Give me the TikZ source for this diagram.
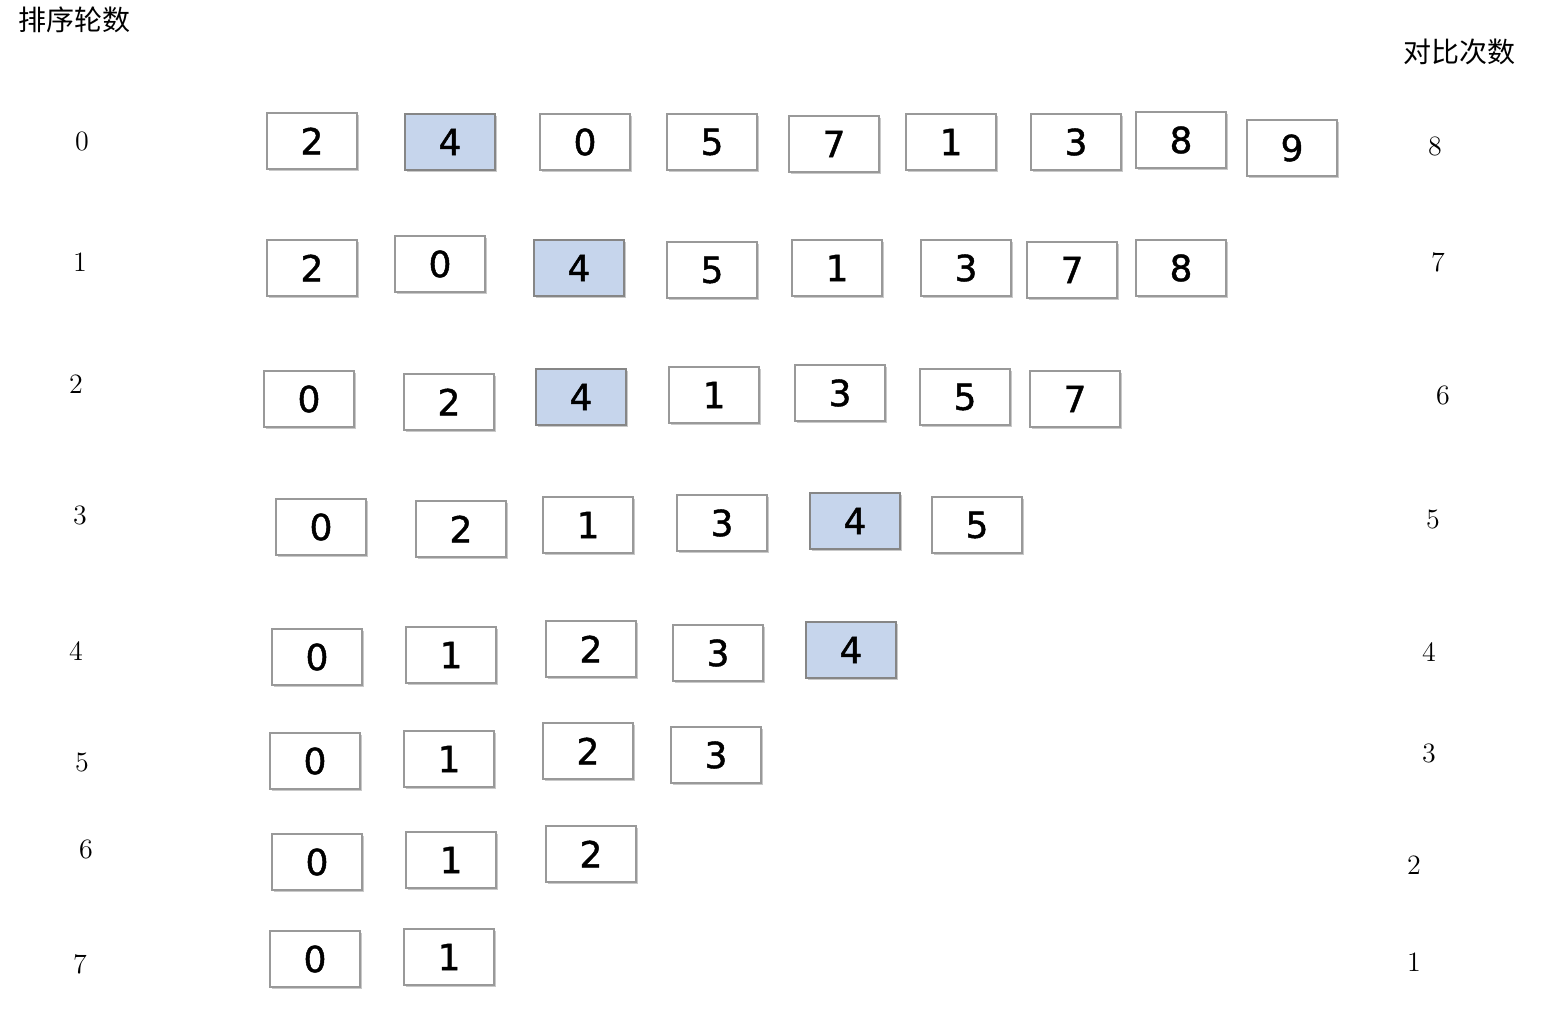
\documentclass[tikz,border=0pt]{standalone}
\usepackage{fontspec}
\newfontfamily\cjk{Noto Sans CJK SC}
\newfontfamily\cellfont[FakeBold=1.2]{DejaVu Sans}
\usetikzlibrary{shadows}
\definecolor{cellblue}{HTML}{C6D5EC}

\begin{document}
\begin{tikzpicture}[x=0.5pt,y=-0.5pt,
		cell/.style={draw=gray!80, line width=1pt, fill=white, minimum width=45pt, minimum height=28pt, inner sep=0pt,
			font=\cellfont\fontsize{18}{18}\selectfont,
			drop shadow={shadow xshift=0.8pt, shadow yshift=-0.8pt, fill=gray!60, opacity=0.7}},
		hcell/.style={cell, fill=cellblue, draw=gray!95},
		rowlabel/.style={font=\fontsize{14}{14}\selectfont, inner sep=0pt}]
		\useasboundingbox (0,0) rectangle (1552,1010);
		% rows of the sort: digit / x / y / style
		\def\rowZero{2/312/141/cell, 4/450/142/hcell, 0/585/142/cell, 5/712/142/cell, 7/834/144/cell, 1/951/142/cell, 3/1076/142/cell, 8/1181/140/cell, 9/1292/148/cell}
		\def\rowOne{2/312/268/cell, 0/440/264/cell, 4/579/268/hcell, 5/712/270/cell, 1/837/268/cell, 3/966/268/cell, 7/1072/270/cell, 8/1181/268/cell}
		\def\rowTwo{0/309/399/cell, 2/449/402/cell, 4/581/397/hcell, 1/714/395/cell, 3/840/393/cell, 5/965/397/cell, 7/1075/399/cell}
		\def\rowThree{0/321/527/cell, 2/461/529/cell, 1/588/525/cell, 3/722/523/cell, 4/855/521/hcell, 5/977/525/cell}
		\def\rowFour{0/317/657/cell, 1/451/655/cell, 2/591/649/cell, 3/718/653/cell, 4/851/650/hcell}
		\def\rowFive{0/315/761/cell, 1/449/759/cell, 2/588/751/cell, 3/716/755/cell}
		\def\rowSix{0/317/862/cell, 1/451/860/cell, 2/591/854/cell}
		\def\rowSeven{0/315/959/cell, 1/449/957/cell}

		\foreach \d/\x/\y/\s [count=\i] in \rowZero
		\node[\s] (r0c\i) at (\x,\y) {\d};
		\foreach \d/\x/\y/\s [count=\i] in \rowOne
		\node[\s] (r1c\i) at (\x,\y) {\d};
		\foreach \d/\x/\y/\s [count=\i] in \rowTwo
		\node[\s] (r2c\i) at (\x,\y) {\d};
		\foreach \d/\x/\y/\s [count=\i] in \rowThree
		\node[\s] (r3c\i) at (\x,\y) {\d};
		\foreach \d/\x/\y/\s [count=\i] in \rowFour
		\node[\s] (r4c\i) at (\x,\y) {\d};
		\foreach \d/\x/\y/\s [count=\i] in \rowFive
		\node[\s] (r5c\i) at (\x,\y) {\d};
		\foreach \d/\x/\y/\s [count=\i] in \rowSix
		\node[\s] (r6c\i) at (\x,\y) {\d};
		\foreach \d/\x/\y/\s [count=\i] in \rowSeven
		\node[\s] (r7c\i) at (\x,\y) {\d};

		% headings
		\node[anchor=west, inner sep=0pt, font=\cjk\fontsize{14}{14}\selectfont] (roundhead) at (18,20) {排序轮数};
		\node[inner sep=0pt, font=\cjk\fontsize{14}{14}\selectfont] (cmphead) at (1459,52) {对比次数};
		% round numbers and compare counts
		\foreach \n/\x/\y in {0/82/141, 1/80/262, 2/76/384, 3/80/515, 4/76/651, 5/82/762, 6/86/849, 7/80/964}
		\node[rowlabel] (round\n) at (\x,\y) {\n};
		\foreach \n/\x/\y [count=\i from 0] in {8/1435/146, 7/1438/262, 6/1443/395, 5/1433/519, 4/1429/652, 3/1429/753, 2/1414/865, 1/1414/962}
		\node[rowlabel] (cmp\i) at (\x,\y) {\n};
	\end{tikzpicture}
\end{document}
